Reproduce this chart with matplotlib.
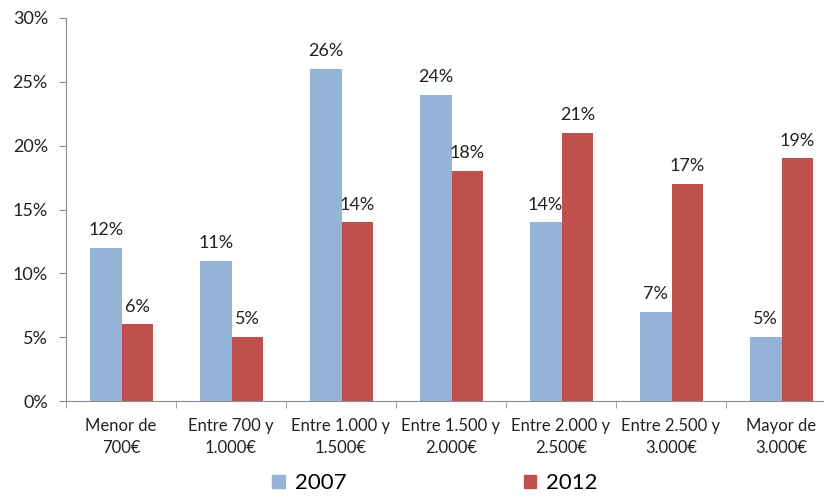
import numpy as np
import matplotlib.pyplot as plt
from matplotlib.patches import Patch

plt.rcParams['font.family'] = ['Lato', 'DejaVu Sans']

categorias = ['Menor de\n700€', 'Entre 700 y\n1.000€', 'Entre 1.000 y\n1.500€',
              'Entre 1.500 y\n2.000€', 'Entre 2.000 y\n2.500€', 'Entre 2.500 y\n3.000€',
              'Mayor de\n3.000€']
v2007 = [12, 11, 26, 24, 14, 7, 5]
v2012 = [6, 5, 14, 18, 21, 17, 19]
yticks = [0, 5, 10, 15, 20, 25, 30]

azul = '#95B3D7'
rojo = '#C0504D'
gris = '#8c8c8c'

fig = plt.figure(figsize=(8.24, 4.97), dpi=100)
ax = fig.add_axes([66/824, 1 - 401/497, 770/824, 383/497])

x = np.arange(len(categorias))
w = 0.29
b1 = ax.bar(x - w/2 + 0.005, v2007, w, color=azul)
b2 = ax.bar(x + w/2 + 0.005, v2012, w, color=rojo)

for barras, vals in ((b1, v2007), (b2, v2012)):
    for b, v in zip(barras, vals):
        ax.annotate(f'{v}%', (b.get_x() + b.get_width()/2, v), xytext=(0, 7),
                    textcoords='offset points', ha='center', va='bottom',
                    fontsize=13, color='#222222')

ax.set_xlim(-0.5, len(categorias) - 0.5)
ax.set_ylim(0, 30)
ax.set_yticks(yticks)
ax.set_yticklabels([f'{t}%' for t in yticks], fontsize=13, color='#222222')
ax.set_xticks(x)
ax.set_xticklabels(categorias, fontsize=12, color='#222222', linespacing=1.45)
ax.set_xticks(np.arange(len(categorias) + 1) - 0.5, minor=True)
ax.tick_params(axis='x', which='major', length=0, pad=12)
ax.tick_params(axis='x', which='minor', length=5, color=gris)
ax.tick_params(axis='y', length=5, color=gris, pad=8)

for s in ['top', 'right']:
    ax.spines[s].set_visible(False)
for s in ['left', 'bottom']:
    ax.spines[s].set_color(gris)

handles = [Patch(color=azul, label='2007'), Patch(color=rojo, label='2012')]
fig.legend(handles=handles, loc='center', bbox_to_anchor=(0.528, 0.028), ncol=2,
           frameon=False, fontsize=16, handlelength=0.55, handleheight=0.55,
           handletextpad=0.45, columnspacing=8.0)

fig.savefig('out.png', dpi=100)
